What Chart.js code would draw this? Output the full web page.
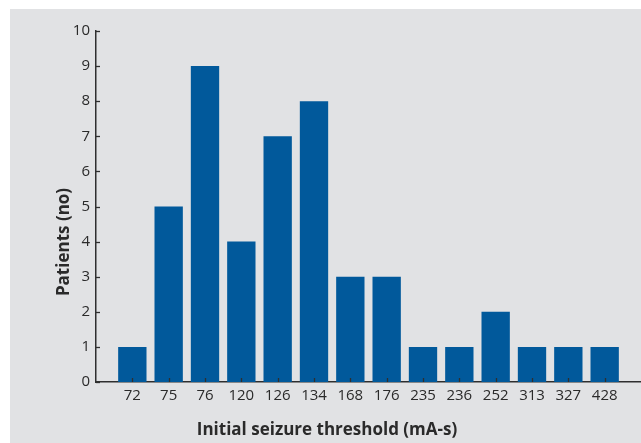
<!DOCTYPE html>
<html>
<head>
<meta charset="utf-8">
<script src="https://cdn.jsdelivr.net/npm/chart.js@4/dist/chart.umd.min.js"></script>
<style>
html,body{margin:0;padding:0;background:#fff;}
canvas{display:block;}
</style>
</head>
<body>
<canvas id="c" width="641" height="443"></canvas>
<script>
const categories = ['72','75','76','120','126','134','168','176','235','236','252','313','327','428'];
const patients = [1,5,9,4,7,8,3,3,1,1,2,1,1,1];
const yTicks = [0,1,2,3,4,5,6,7,8,9,10];
const xTitle = 'Initial seizure threshold (mA-s)';
const yTitle = 'Patients (no)';

const labels = [''].concat(categories, ['']);
const values = [null].concat(patients, [null]);

const FONT = '"Open Sans", "Noto Sans", sans-serif';
const TXT = '#2a2a2a';
const AXIS = '#2f2f2f';

const bgPlugin = {
  id: 'bg',
  beforeDraw(chart) {
    const ctx = chart.ctx;
    ctx.save();
    ctx.fillStyle = '#e1e2e4';
    ctx.fillRect(10, 9, chart.width - 10, chart.height - 9);
    ctx.restore();
  }
};

const extras = {
  id: 'extras',
  afterDraw(chart) {
    const ctx = chart.ctx;
    const xs = chart.scales.x, ys = chart.scales.y;
    const ca = chart.chartArea;
    ctx.save();
    ctx.strokeStyle = AXIS;
    ctx.lineWidth = 1.3;
    yTicks.forEach(v => {
      const y = Math.round(ys.getPixelForValue(v)) + 0.5;
      ctx.beginPath();
      ctx.moveTo(ca.left, y);
      ctx.lineTo(ca.left + 4, y);
      ctx.stroke();
    });
    for (let i = 1; i <= categories.length; i++) {
      const x = Math.round(xs.getPixelForValue(i)) + 0.5;
      ctx.beginPath();
      ctx.moveTo(x, ca.bottom);
      ctx.lineTo(x, ca.bottom - 4);
      ctx.stroke();
    }
    ctx.fillStyle = TXT;
    ctx.font = 'bold 17px ' + FONT;
    ctx.textAlign = 'center';
    ctx.textBaseline = 'middle';
    ctx.fillText(xTitle, 327, 430);
    ctx.translate(64, 242);
    ctx.rotate(-Math.PI / 2);
    ctx.fillText(yTitle, 0, 0);
    ctx.restore();
  }
};

new Chart(document.getElementById('c'), {
  type: 'bar',
  data: {
    labels: labels,
    datasets: [{
      data: values,
      backgroundColor: '#01599b',
      borderWidth: 0,
      barPercentage: 0.78,
      categoryPercentage: 1.0
    }]
  },
  options: {
    responsive: false,
    animation: false,
    devicePixelRatio: 1,
    layout: { padding: { left: 0, right: 0, top: 31, bottom: 0 } },
    plugins: { legend: { display: false }, tooltip: { enabled: false }, title: { display: false } },
    scales: {
      x: {
        offset: false,
        grid: { display: false, drawTicks: false },
        border: { display: true, color: AXIS, width: 1.5 },
        ticks: { autoSkip: false, maxRotation: 0, minRotation: 0, color: TXT, font: { family: FONT, size: 15 }, padding: 5 },
        afterFit(s) { s.height = 61; s.paddingRight = 0; }
      },
      y: {
        min: 0, max: 10,
        grid: { display: false, drawTicks: false },
        border: { display: true, color: AXIS, width: 1.5 },
        ticks: { stepSize: 1, color: TXT, font: { family: FONT, size: 15 }, padding: 6 },
        afterFit(s) { s.width = 96; }
      }
    }
  },
  plugins: [bgPlugin, extras]
});
</script>
</body>
</html>
